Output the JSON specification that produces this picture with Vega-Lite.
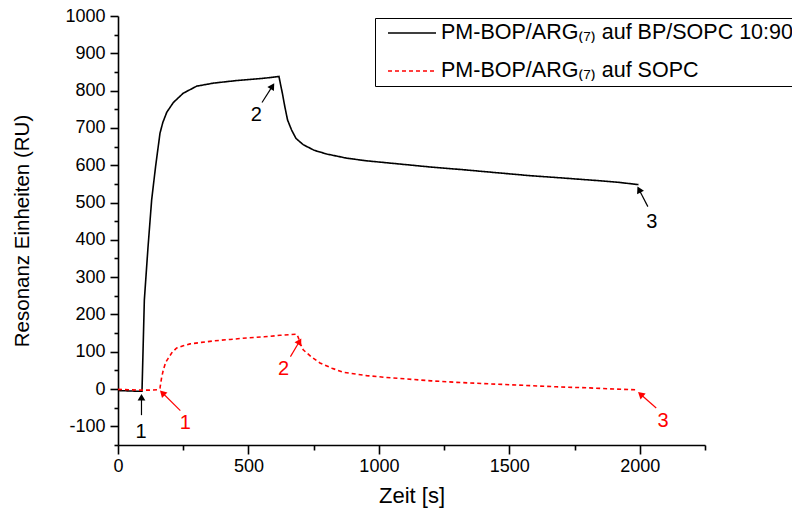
{
  "$schema": "https://vega.github.io/schema/vega-lite/v6.json",
  "width": 587,
  "height": 429,
  "autosize": {"type": "none"},
  "padding": {"left": 118, "top": 16, "right": 87, "bottom": 70},
  "background": "white",
  "config": {
    "view": {"stroke": null},
    "font": "Liberation Sans",
    "axis": {
      "domainColor": "black",
      "domainWidth": 1.6,
      "tickColor": "black",
      "tickWidth": 1.6,
      "labelColor": "black",
      "labelFont": "Liberation Sans",
      "labelFontSize": 18,
      "labelOverlap": false,
      "labelBound": false,
      "labelFlush": false,
      "titleColor": "black",
      "titleFont": "Liberation Sans",
      "titleFontSize": 21,
      "titleFontWeight": "normal",
      "grid": false
    }
  },
  "resolve": {"axis": {"x": "independent", "y": "independent"}},
  "datasets": {
    "curves": [
      {"s": "PM-BOP/ARG₍₇₎ auf BP/SOPC 10:90", "t": 0, "v": -4},
      {"s": "PM-BOP/ARG₍₇₎ auf BP/SOPC 10:90", "t": 40, "v": -5},
      {"s": "PM-BOP/ARG₍₇₎ auf BP/SOPC 10:90", "t": 80, "v": -6},
      {"s": "PM-BOP/ARG₍₇₎ auf BP/SOPC 10:90", "t": 92, "v": -6},
      {"s": "PM-BOP/ARG₍₇₎ auf BP/SOPC 10:90", "t": 101, "v": 239},
      {"s": "PM-BOP/ARG₍₇₎ auf BP/SOPC 10:90", "t": 115, "v": 380},
      {"s": "PM-BOP/ARG₍₇₎ auf BP/SOPC 10:90", "t": 129, "v": 507},
      {"s": "PM-BOP/ARG₍₇₎ auf BP/SOPC 10:90", "t": 144, "v": 596},
      {"s": "PM-BOP/ARG₍₇₎ auf BP/SOPC 10:90", "t": 161, "v": 686},
      {"s": "PM-BOP/ARG₍₇₎ auf BP/SOPC 10:90", "t": 172, "v": 715},
      {"s": "PM-BOP/ARG₍₇₎ auf BP/SOPC 10:90", "t": 187, "v": 742},
      {"s": "PM-BOP/ARG₍₇₎ auf BP/SOPC 10:90", "t": 212, "v": 768},
      {"s": "PM-BOP/ARG₍₇₎ auf BP/SOPC 10:90", "t": 250, "v": 793},
      {"s": "PM-BOP/ARG₍₇₎ auf BP/SOPC 10:90", "t": 302, "v": 812},
      {"s": "PM-BOP/ARG₍₇₎ auf BP/SOPC 10:90", "t": 365, "v": 820},
      {"s": "PM-BOP/ARG₍₇₎ auf BP/SOPC 10:90", "t": 455, "v": 827},
      {"s": "PM-BOP/ARG₍₇₎ auf BP/SOPC 10:90", "t": 557, "v": 833},
      {"s": "PM-BOP/ARG₍₇₎ auf BP/SOPC 10:90", "t": 608, "v": 837},
      {"s": "PM-BOP/ARG₍₇₎ auf BP/SOPC 10:90", "t": 617, "v": 838},
      {"s": "PM-BOP/ARG₍₇₎ auf BP/SOPC 10:90", "t": 622, "v": 820},
      {"s": "PM-BOP/ARG₍₇₎ auf BP/SOPC 10:90", "t": 630, "v": 793},
      {"s": "PM-BOP/ARG₍₇₎ auf BP/SOPC 10:90", "t": 640, "v": 755},
      {"s": "PM-BOP/ARG₍₇₎ auf BP/SOPC 10:90", "t": 650, "v": 721},
      {"s": "PM-BOP/ARG₍₇₎ auf BP/SOPC 10:90", "t": 665, "v": 695},
      {"s": "PM-BOP/ARG₍₇₎ auf BP/SOPC 10:90", "t": 682, "v": 672},
      {"s": "PM-BOP/ARG₍₇₎ auf BP/SOPC 10:90", "t": 710, "v": 655},
      {"s": "PM-BOP/ARG₍₇₎ auf BP/SOPC 10:90", "t": 752, "v": 640},
      {"s": "PM-BOP/ARG₍₇₎ auf BP/SOPC 10:90", "t": 800, "v": 630},
      {"s": "PM-BOP/ARG₍₇₎ auf BP/SOPC 10:90", "t": 876, "v": 619},
      {"s": "PM-BOP/ARG₍₇₎ auf BP/SOPC 10:90", "t": 950, "v": 612},
      {"s": "PM-BOP/ARG₍₇₎ auf BP/SOPC 10:90", "t": 1068, "v": 604},
      {"s": "PM-BOP/ARG₍₇₎ auf BP/SOPC 10:90", "t": 1200, "v": 595},
      {"s": "PM-BOP/ARG₍₇₎ auf BP/SOPC 10:90", "t": 1323, "v": 588},
      {"s": "PM-BOP/ARG₍₇₎ auf BP/SOPC 10:90", "t": 1450, "v": 580},
      {"s": "PM-BOP/ARG₍₇₎ auf BP/SOPC 10:90", "t": 1579, "v": 572},
      {"s": "PM-BOP/ARG₍₇₎ auf BP/SOPC 10:90", "t": 1700, "v": 566},
      {"s": "PM-BOP/ARG₍₇₎ auf BP/SOPC 10:90", "t": 1834, "v": 559},
      {"s": "PM-BOP/ARG₍₇₎ auf BP/SOPC 10:90", "t": 1920, "v": 554},
      {"s": "PM-BOP/ARG₍₇₎ auf BP/SOPC 10:90", "t": 1995, "v": 548},
      {"s": "PM-BOP/ARG₍₇₎ auf SOPC", "t": 0, "v": -1},
      {"s": "PM-BOP/ARG₍₇₎ auf SOPC", "t": 40, "v": -2},
      {"s": "PM-BOP/ARG₍₇₎ auf SOPC", "t": 80, "v": -3},
      {"s": "PM-BOP/ARG₍₇₎ auf SOPC", "t": 120, "v": -3},
      {"s": "PM-BOP/ARG₍₇₎ auf SOPC", "t": 150, "v": -2},
      {"s": "PM-BOP/ARG₍₇₎ auf SOPC", "t": 161, "v": 3},
      {"s": "PM-BOP/ARG₍₇₎ auf SOPC", "t": 167, "v": 30},
      {"s": "PM-BOP/ARG₍₇₎ auf SOPC", "t": 174, "v": 52},
      {"s": "PM-BOP/ARG₍₇₎ auf SOPC", "t": 183, "v": 72},
      {"s": "PM-BOP/ARG₍₇₎ auf SOPC", "t": 193, "v": 83},
      {"s": "PM-BOP/ARG₍₇₎ auf SOPC", "t": 208, "v": 99},
      {"s": "PM-BOP/ARG₍₇₎ auf SOPC", "t": 225, "v": 110},
      {"s": "PM-BOP/ARG₍₇₎ auf SOPC", "t": 250, "v": 116},
      {"s": "PM-BOP/ARG₍₇₎ auf SOPC", "t": 276, "v": 121},
      {"s": "PM-BOP/ARG₍₇₎ auf SOPC", "t": 320, "v": 125},
      {"s": "PM-BOP/ARG₍₇₎ auf SOPC", "t": 365, "v": 129},
      {"s": "PM-BOP/ARG₍₇₎ auf SOPC", "t": 430, "v": 133},
      {"s": "PM-BOP/ARG₍₇₎ auf SOPC", "t": 493, "v": 137},
      {"s": "PM-BOP/ARG₍₇₎ auf SOPC", "t": 560, "v": 140},
      {"s": "PM-BOP/ARG₍₇₎ auf SOPC", "t": 621, "v": 144},
      {"s": "PM-BOP/ARG₍₇₎ auf SOPC", "t": 660, "v": 146},
      {"s": "PM-BOP/ARG₍₇₎ auf SOPC", "t": 685, "v": 147},
      {"s": "PM-BOP/ARG₍₇₎ auf SOPC", "t": 690, "v": 140},
      {"s": "PM-BOP/ARG₍₇₎ auf SOPC", "t": 700, "v": 120},
      {"s": "PM-BOP/ARG₍₇₎ auf SOPC", "t": 710, "v": 105},
      {"s": "PM-BOP/ARG₍₇₎ auf SOPC", "t": 740, "v": 87},
      {"s": "PM-BOP/ARG₍₇₎ auf SOPC", "t": 774, "v": 70},
      {"s": "PM-BOP/ARG₍₇₎ auf SOPC", "t": 820, "v": 56},
      {"s": "PM-BOP/ARG₍₇₎ auf SOPC", "t": 863, "v": 45},
      {"s": "PM-BOP/ARG₍₇₎ auf SOPC", "t": 953, "v": 36},
      {"s": "PM-BOP/ARG₍₇₎ auf SOPC", "t": 1030, "v": 31},
      {"s": "PM-BOP/ARG₍₇₎ auf SOPC", "t": 1106, "v": 27},
      {"s": "PM-BOP/ARG₍₇₎ auf SOPC", "t": 1200, "v": 22},
      {"s": "PM-BOP/ARG₍₇₎ auf SOPC", "t": 1298, "v": 18},
      {"s": "PM-BOP/ARG₍₇₎ auf SOPC", "t": 1420, "v": 14},
      {"s": "PM-BOP/ARG₍₇₎ auf SOPC", "t": 1553, "v": 10},
      {"s": "PM-BOP/ARG₍₇₎ auf SOPC", "t": 1680, "v": 6},
      {"s": "PM-BOP/ARG₍₇₎ auf SOPC", "t": 1808, "v": 3},
      {"s": "PM-BOP/ARG₍₇₎ auf SOPC", "t": 1900, "v": 0},
      {"s": "PM-BOP/ARG₍₇₎ auf SOPC", "t": 1990, "v": -2}
    ],
    "events": [
      {"s": "PM-BOP/ARG₍₇₎ auf BP/SOPC 10:90", "label": "1", "tip_t": 90, "tip_v": -22, "tail_t": 90, "tail_v": -70, "label_t": 88, "label_v": -114},
      {"s": "PM-BOP/ARG₍₇₎ auf SOPC", "label": "1", "tip_t": 170, "tip_v": -10, "tail_t": 239, "tail_v": -58, "label_t": 258, "label_v": -92},
      {"s": "PM-BOP/ARG₍₇₎ auf BP/SOPC 10:90", "label": "2", "tip_t": 592, "tip_v": 812, "tail_t": 552, "tail_v": 768, "label_t": 530, "label_v": 735},
      {"s": "PM-BOP/ARG₍₇₎ auf SOPC", "label": "2", "tip_t": 696, "tip_v": 128, "tail_t": 661, "tail_v": 87, "label_t": 635, "label_v": 54},
      {"s": "PM-BOP/ARG₍₇₎ auf BP/SOPC 10:90", "label": "3", "tip_t": 1997, "tip_v": 535, "tail_t": 2031, "tail_v": 489, "label_t": 2046, "label_v": 449},
      {"s": "PM-BOP/ARG₍₇₎ auf SOPC", "label": "3", "tip_t": 2003, "tip_v": -14, "tail_t": 2063, "tail_v": -51, "label_t": 2089, "label_v": -87}
    ]
  },
  "layer": [
    {
      "data": {"name": "curves"},
      "mark": {"type": "line", "strokeWidth": 1.6, "clip": true},
      "encoding": {
        "x": {
          "field": "t",
          "type": "quantitative",
          "scale": {"domain": [0, 2250], "nice": false, "zero": false},
          "axis": {
            "orient": "bottom",
            "title": "Zeit [s]",
            "titleFontSize": 22,
            "values": [0, 500, 1000, 1500, 2000],
            "labelExpr": "'' + datum.value",
            "tickSize": 9,
            "labelPadding": 3,
            "titlePadding": 10
          }
        },
        "y": {
          "field": "v",
          "type": "quantitative",
          "scale": {"domain": [-150, 1000], "nice": false, "zero": false},
          "axis": {
            "orient": "left",
            "title": "Resonanz Einheiten (RU)",
            "titleFontSize": 20.5,
            "values": [-100, 0, 100, 200, 300, 400, 500, 600, 700, 800, 900, 1000],
            "labelExpr": "'' + datum.value",
            "tickSize": 8,
            "labelPadding": 5,
            "titlePadding": 32
          }
        },
        "color": {
          "field": "s",
          "type": "nominal",
          "scale": {
            "domain": ["PM-BOP/ARG₍₇₎ auf BP/SOPC 10:90", "PM-BOP/ARG₍₇₎ auf SOPC"],
            "range": ["black", "red"]
          },
          "legend": {
            "title": null,
            "orient": "none",
            "legendX": 257,
            "legendY": 2,
            "padding": 4,
            "strokeColor": "black",
            "fillColor": "white",
            "symbolType": "stroke",
            "symbolSize": 2304,
            "symbolStrokeWidth": 1.5,
            "symbolOffset": 8,
            "clipHeight": 22,
            "rowPadding": 16,
            "labelOffset": 4,
            "labelFont": "Liberation Sans",
            "labelFontSize": 21.5,
            "labelColor": "black",
            "labelLimit": 0
          }
        },
        "strokeDash": {
          "field": "s",
          "type": "nominal",
          "scale": {
            "domain": ["PM-BOP/ARG₍₇₎ auf BP/SOPC 10:90", "PM-BOP/ARG₍₇₎ auf SOPC"],
            "range": [[1, 0], [4, 3]]
          },
          "legend": {
            "title": null,
            "orient": "none",
            "legendX": 257,
            "legendY": 2,
            "padding": 4,
            "strokeColor": "black",
            "fillColor": "white",
            "symbolType": "stroke",
            "symbolSize": 2304,
            "symbolStrokeWidth": 1.5,
            "symbolOffset": 8,
            "clipHeight": 22,
            "rowPadding": 16,
            "labelOffset": 4,
            "labelFont": "Liberation Sans",
            "labelFontSize": 21.5,
            "labelColor": "black",
            "labelLimit": 0
          }
        }
      }
    },
    {
      "data": {"name": "events"},
      "mark": {"type": "rule", "strokeWidth": 1.2},
      "encoding": {
        "x": {
          "field": "tail_t",
          "type": "quantitative",
          "axis": {
            "orient": "bottom",
            "title": null,
            "values": [250, 750, 1250, 1750, 2250],
            "labels": false,
            "domain": false,
            "tickSize": 5
          }
        },
        "y": {
          "field": "tail_v",
          "type": "quantitative",
          "axis": {
            "orient": "left",
            "title": null,
            "values": [-150, -50, 50, 150, 250, 350, 450, 550, 650, 750, 850, 950],
            "labels": false,
            "domain": false,
            "tickSize": 4
          }
        },
        "x2": {"field": "tip_t"},
        "y2": {"field": "tip_v"},
        "color": {"field": "s", "type": "nominal", "legend": null}
      }
    },
    {
      "data": {"name": "events"},
      "mark": {
        "type": "point",
        "shape": "triangle-up",
        "filled": true,
        "opacity": 1,
        "size": 60,
        "angle": {"expr": "atan2(scale('x', datum.tip_t) - scale('x', datum.tail_t), scale('y', datum.tail_v) - scale('y', datum.tip_v)) * 180 / PI"}
      },
      "encoding": {
        "x": {"field": "tip_t", "type": "quantitative", "axis": null},
        "y": {"field": "tip_v", "type": "quantitative", "axis": null},
        "color": {"field": "s", "type": "nominal", "legend": null}
      }
    },
    {
      "data": {"name": "events"},
      "mark": {"type": "text", "font": "Liberation Sans", "fontSize": 20, "align": "center", "baseline": "middle"},
      "encoding": {
        "x": {"field": "label_t", "type": "quantitative", "axis": null},
        "y": {"field": "label_v", "type": "quantitative", "axis": null},
        "text": {"field": "label"},
        "color": {"field": "s", "type": "nominal", "legend": null}
      }
    }
  ]
}
